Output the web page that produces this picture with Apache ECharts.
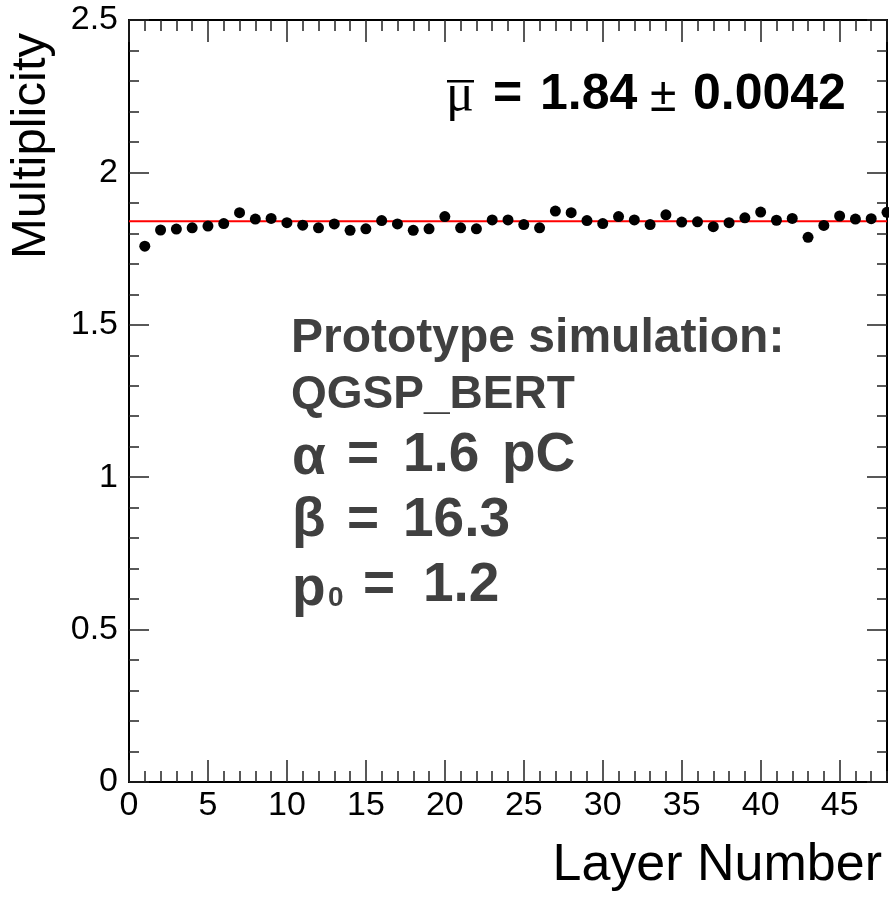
<!DOCTYPE html>
<html>
<head>
<meta charset="utf-8">
<script src="https://cdn.jsdelivr.net/npm/echarts@6/dist/echarts.min.js"></script>
<style>
  html, body { margin: 0; padding: 0; background: #fff; }
  #chart { width: 889px; height: 898px; }
</style>
</head>
<body>
<div id="chart"></div>
<script>
// layer numbers and measured multiplicity
const layers = [1, 2, 3, 4, 5, 6, 7, 8, 9, 10, 11, 12, 13, 14, 15, 16, 17, 18, 19, 20, 21, 22, 23, 24,
  25, 26, 27, 28, 29, 30, 31, 32, 33, 34, 35, 36, 37, 38, 39, 40, 41, 42, 43, 44, 45, 46, 47, 48]
const multiplicity = [1.758, 1.811, 1.814, 1.818, 1.824, 1.832, 1.868, 1.847, 1.849, 1.835, 1.827, 1.818,
  1.831, 1.810, 1.815, 1.842, 1.831, 1.810, 1.815, 1.855, 1.818, 1.815, 1.844, 1.844,
  1.829, 1.818, 1.873, 1.868, 1.842, 1.832, 1.855, 1.844, 1.829, 1.861, 1.837, 1.838,
  1.822, 1.835, 1.851, 1.870, 1.843, 1.849, 1.787, 1.826, 1.857, 1.847, 1.848, 1.869]

// constant fit
const fitRange = [0, 48]
const fitMean = 1.84

const xRange = [0, 48]
const yRange = [0, 2.5]

const SANS = "'Liberation Sans', Arial, sans-serif"
const GRAY = "#404040"

const chart = echarts.init(document.getElementById("chart"))

function xAx(pos, interval, len, labels) {
  return {
    type: "value",
    position: pos,
    min: xRange[0],
    max: xRange[1],
    interval: interval,
    axisLine: { show: true, onZero: false, lineStyle: { color: "#000", width: 2 } },
    axisTick: { show: true, inside: true, length: len, lineStyle: { color: "#222", width: 1.5 } },
    axisLabel: {
      show: labels,
      showMaxLabel: false,
      fontFamily: SANS,
      fontSize: 34,
      color: "#000",
      margin: 7
    },
    splitLine: { show: false }
  }
}

function yAx(pos, labels) {
  return {
    type: "value",
    position: pos,
    min: yRange[0],
    max: yRange[1],
    interval: 0.5,
    axisLine: { show: true, onZero: false, lineStyle: { color: "#000", width: 2 } },
    axisTick: { show: true, inside: true, length: 20, lineStyle: { color: "#222", width: 1.5 } },
    minorTick: { show: true, splitNumber: 5, length: 10, lineStyle: { color: "#222", width: 1.5 } },
    axisLabel: {
      show: labels,
      fontFamily: SANS,
      fontSize: 34,
      color: "#000",
      margin: 11
    },
    splitLine: { show: false }
  }
}

function txt(text, x, y, size, opts) {
  opts = opts || {}
  return {
    type: "text",
    x: x,
    y: y,
    rotation: opts.rotation || 0,
    z: 100,
    style: {
      text: text,
      fontFamily: opts.family || SANS,
      fontSize: size,
      fontWeight: opts.weight || "bold",
      fill: opts.color || GRAY,
      textAlign: opts.align || "left",
      textVerticalAlign: "middle"
    }
  }
}

const option = {
  animation: false,
  backgroundColor: "#fff",
  grid: { left: 129, right: 2, top: 20, bottom: 116 },
  xAxis: [
    xAx("bottom", 5, 22, true),
    xAx("bottom", 1, 11, false),
    xAx("top", 5, 22, false),
    xAx("top", 1, 11, false)
  ],
  yAxis: [yAx("left", true), yAx("right", false)],
  series: [
    {
      type: "line",
      data: fitRange.map(x => [x, fitMean]),
      showSymbol: false,
      symbol: "none",
      lineStyle: { color: "#ff0000", width: 2 },
      z: 2
    },
    {
      type: "scatter",
      data: layers.map((l, i) => [l, multiplicity[i]]),
      symbol: "circle",
      symbolSize: 11,
      itemStyle: { color: "#000", opacity: 1 },
      z: 3
    }
  ],
  graphic: [
    // axis titles
    txt("Multiplicity", 31, 33, 49, { rotation: Math.PI / 2, align: "right", weight: "normal", color: "#000" }),
    txt("Layer Number", 882, 866, 52, { align: "right", weight: "normal", color: "#000" }),
    // fit result
    txt("μ", 460, 96, 52, { family: "'Liberation Serif', 'DejaVu Serif', serif", weight: "normal", color: "#000", align: "center" }),
    { type: "rect", z: 100, shape: { x: 447, y: 80, width: 27, height: 2.5 }, style: { fill: "#000" } },
    txt("=", 493, 95, 50, { color: "#000" }),
    txt("1.84", 540, 95, 50, { color: "#000" }),
    txt("±", 650, 98, 48, { color: "#000", weight: "normal" }),
    txt("0.0042", 693, 95, 50, { color: "#000" }),
    // simulation parameters
    txt("Prototype simulation:", 291, 339, 48),
    txt("QGSP_BERT", 291, 395, 46),
    txt("α", 292, 459, 55),
    txt("=", 347, 456, 55),
    txt("1.6", 403, 456, 55),
    txt("pC", 502, 456, 55),
    txt("β", 292, 521, 55),
    txt("=", 347, 521, 55),
    txt("16.3", 403, 521, 55),
    txt("p", 292, 590, 55),
    txt("0", 328, 598, 28),
    txt("=", 363, 586, 55),
    txt("1.2", 423, 586, 55)
  ]
}

chart.setOption(option)
</script>
</body>
</html>
